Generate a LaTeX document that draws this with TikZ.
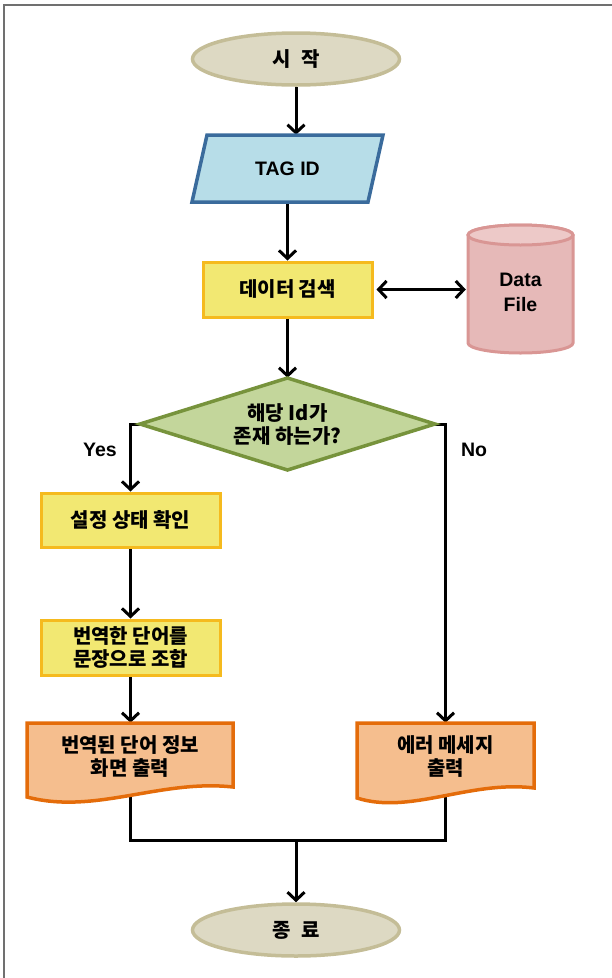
\documentclass[tikz,border=0pt]{standalone}
\usepackage{fontspec}
\setmainfont{Liberation Sans}
\newfontfamily\kr{Noto Sans CJK KR}
\usetikzlibrary{shapes.geometric,arrows.meta,calc,backgrounds}
\definecolor{framegray}{HTML}{707070}
\definecolor{termfill}{HTML}{DDD9C3}
\definecolor{termborder}{HTML}{C4BD97}
\definecolor{tagfill}{HTML}{B7DDE8}
\definecolor{tagborder}{HTML}{3A6B9C}
\definecolor{procfill}{HTML}{F2E872}
\definecolor{procborder}{HTML}{F5BA1E}
\definecolor{cylfill}{HTML}{E6B9B8}
\definecolor{cyltop}{HTML}{EDC9C8}
\definecolor{cylborder}{HTML}{D99694}
\definecolor{diafill}{HTML}{C3D69B}
\definecolor{diaborder}{HTML}{77933C}
\definecolor{docfill}{HTML}{F5BE8E}
\definecolor{docborder}{HTML}{E46C0A}
\begin{document}
\begin{tikzpicture}[x=1pt,y=-1pt,
  krfont/.style={font=\kr\bfseries\fontsize{20}{23}\selectfont},
  lafont/.style={font=\bfseries\fontsize{19.5}{25}\selectfont},
  term/.style={ellipse, draw=termborder, fill=termfill, line width=3.5pt,
    minimum width=207pt, minimum height=52pt, krfont},
  proc/.style={rectangle, draw=procborder, fill=procfill, line width=3pt,
    minimum width=179pt, minimum height=54pt, align=center, krfont},
  txt/.style={align=center, inner sep=0pt},
  conn/.style={line width=3pt},
  arr/.style={line width=3pt, -{Straight Barb[length=8pt,width=17pt]}},
  darr/.style={line width=3pt, {Straight Barb[length=8pt,width=17pt]}-{Straight Barb[length=8pt,width=17pt]}}
]
\useasboundingbox (0,0) rectangle (612,978);
% frame
\draw[framegray, line width=2pt] (4,978) -- (4,5) -- (612,5);

% custom shapes
\draw[fill=tagfill, draw=tagborder, line width=3.5pt, line join=miter]
  (207,135) -- (383,135) -- (368,202) -- (192,202) -- cycle;
\draw[fill=cylfill, draw=cylborder, line width=3pt]
  (468,235) -- (468,343) arc[start angle=180, end angle=0, x radius=52.5, y radius=10]
  -- (573,235) arc[start angle=0, end angle=-180, x radius=52.5, y radius=10] -- cycle;
\draw[fill=cyltop, draw=cylborder, line width=3pt] (520.5,235) ellipse[x radius=52.5, y radius=10];
\draw[fill=diafill, draw=diaborder, line width=3.5pt, line join=miter]
  (287.5,378) -- (435,424) -- (287.5,470) -- (140,424) -- cycle;
\draw[fill=docfill, draw=docborder, line width=3.5pt, line join=miter]
  (27,723) -- (233,723) -- (233,787) .. controls (160,779) and (95,815) .. (27,797) -- cycle;
\draw[fill=docfill, draw=docborder, line width=3.5pt, line join=miter]
  (357,723) -- (534,723) -- (534,788) .. controls (470,780) and (410,815) .. (357,798) -- cycle;

% nodes
\node[term] (start) at (296,59) {시\hspace{6pt} 작};
\node[txt, lafont, minimum width=176pt, minimum height=67pt] (tag) at (287.5,168.5) {TAG ID};
\node[proc, minimum width=169pt, minimum height=55pt] (search) at (287.5,289.5) {데이터 검색};
\node[txt, lafont, minimum width=105pt, minimum height=128pt] (data) at (520.5,292) {Data\\File};
\node[txt, krfont, minimum width=295pt, minimum height=92pt] (dia) at (287.5,424) {해당 Id가\\존재 하는가?};
\node[proc] (check) at (130.5,520) {설정 상태 확인};
\node[proc, minimum height=55pt] (combine) at (130.5,647.5) {번역한 단어를\\문장으로 조합};
\node[txt, krfont, minimum width=206pt, minimum height=67pt] (out) at (130,756.5) {번역된 단어 정보\\화면 출력};
\node[txt, krfont, minimum width=177pt, minimum height=67pt] (err) at (445.5,756.5) {에러 메세지\\출력};
\node[term] (end) at (296,930) {종\hspace{6pt} 료};
\node[lafont] (yes) at (100,450) {Yes};
\node[lafont] (no) at (474,450) {No};
\coordinate (join) at (296,840);

% connectors
\begin{pgfonlayer}{background}
\draw[arr] (start.south) -- (start.south |- tag.north);
\draw[arr] (tag.south) -- (search.north);
\draw[darr, shorten <=3pt, shorten >=2pt] (search.east) -- (search.east -| data.west);
\draw[arr] (search.south) -- (dia.north);
\draw[arr] (dia.west) -| (check.north);
\draw[arr] (dia.east) -| (err.north);
\draw[arr] (check.south) -- (combine.north);
\draw[arr] (combine.south) -- (combine.south |- out.north);
\draw[conn] (out.south) |- (join);
\draw[conn] (err.south) |- (join);
\draw[arr] (join) -- (end.north);
\end{pgfonlayer}
\end{tikzpicture}
\end{document}
